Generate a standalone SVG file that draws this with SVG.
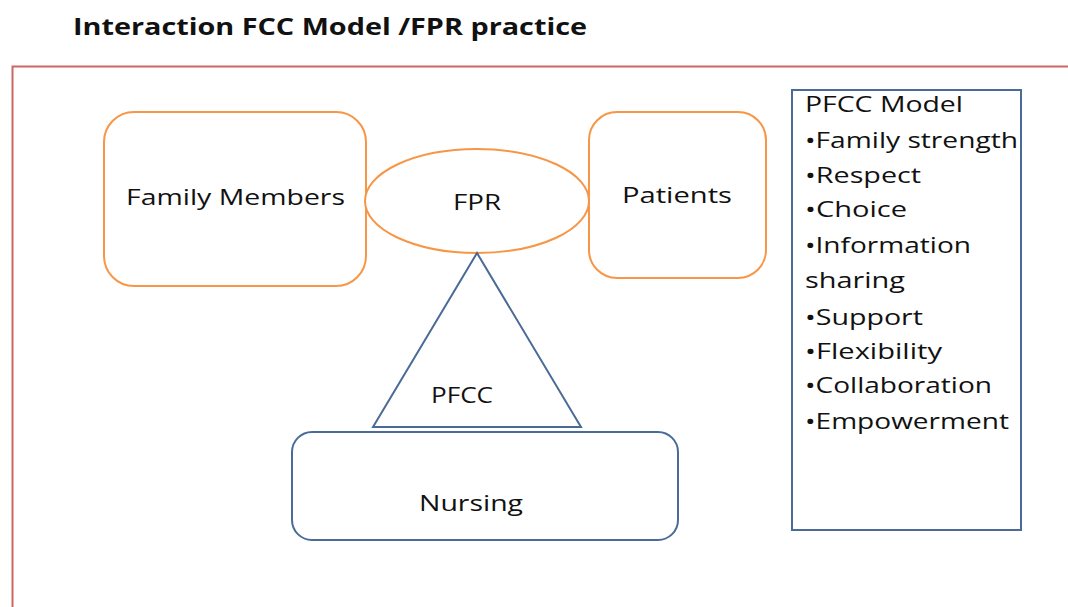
<svg xmlns="http://www.w3.org/2000/svg" width="1068" height="607" viewBox="0 0 1068 607">
<style>
text{font-family:"Open Sans","Liberation Sans",sans-serif;fill:#111;font-size:22px}
.t{font-weight:bold;font-size:23px}
.o{fill:#fff;stroke:#f79646;stroke-width:2}
.b{fill:#fff;stroke:#4a6a98;stroke-width:2}
.c{text-anchor:middle}
</style>
<rect width="1068" height="607" fill="#fff"/>
<text class="t" x="73" y="35" textLength="514" lengthAdjust="spacingAndGlyphs">Interaction FCC Model /FPR practice</text>
<path d="M1068 66.5H12.5V607" fill="none" stroke="#cf6666" stroke-width="2"/>
<g id="family">
<rect class="o" x="104" y="112" width="262" height="174" rx="30"/>
<text x="126" y="205" textLength="219" lengthAdjust="spacingAndGlyphs">Family Members</text>
</g>
<g id="patients">
<rect class="o" x="589" y="112" width="177" height="166" rx="28"/>
<text x="622" y="203" textLength="110" lengthAdjust="spacingAndGlyphs">Patients</text>
</g>
<g id="fpr">
<ellipse class="o" cx="477" cy="201" rx="112" ry="52"/>
<text x="453" y="210" textLength="48" lengthAdjust="spacingAndGlyphs">FPR</text>
</g>
<g id="pfcc">
<polygon class="b" points="477,253 373,427 581,427"/>
<text x="431" y="403" textLength="62" lengthAdjust="spacingAndGlyphs">PFCC</text>
</g>
<g id="nursing">
<rect class="b" x="292" y="432" width="386" height="108" rx="20"/>
<text x="419" y="511" textLength="104" lengthAdjust="spacingAndGlyphs">Nursing</text>
</g>
<g id="connectors"></g>
<g id="pfcc-model">
<rect x="792" y="90" width="229" height="440" fill="#fff" stroke="#4a6a98" stroke-width="2"/>
<text x="805" y="112" textLength="158" lengthAdjust="spacingAndGlyphs">PFCC Model</text>
<text x="805" y="148" textLength="213" lengthAdjust="spacingAndGlyphs">•Family strength</text>
<text x="805" y="183" textLength="116" lengthAdjust="spacingAndGlyphs">•Respect</text>
<text x="805" y="217" textLength="102" lengthAdjust="spacingAndGlyphs">•Choice</text>
<text x="805" y="253" textLength="166" lengthAdjust="spacingAndGlyphs">•Information</text>
<text x="805" y="288" textLength="100" lengthAdjust="spacingAndGlyphs">sharing</text>
<text x="805" y="325" textLength="118" lengthAdjust="spacingAndGlyphs">•Support</text>
<text x="805" y="359" textLength="137" lengthAdjust="spacingAndGlyphs">•Flexibility</text>
<text x="805" y="393" textLength="187" lengthAdjust="spacingAndGlyphs">•Collaboration</text>
<text x="805" y="429" textLength="204" lengthAdjust="spacingAndGlyphs">•Empowerment</text>
</g>
</svg>
